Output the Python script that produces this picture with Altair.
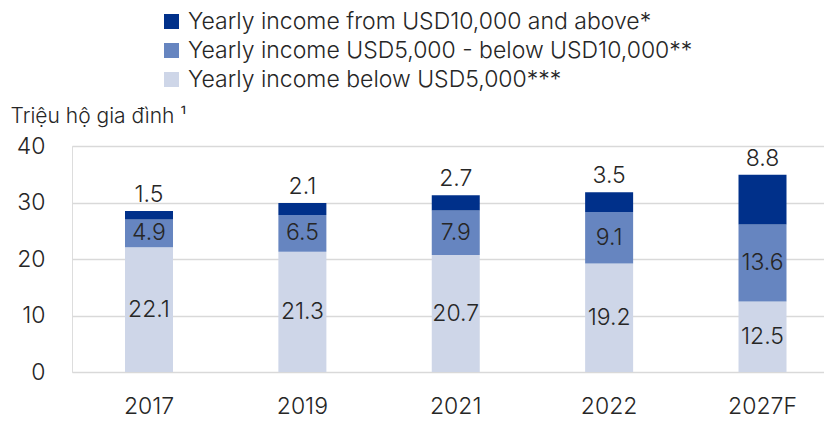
import altair as alt
import pandas as pd

years = ["2017", "2019", "2021", "2022", "2027F"]
below_5k = [22.1, 21.3, 20.7, 19.2, 12.5]
from_5k_to_10k = [4.9, 6.5, 7.9, 9.1, 13.6]
above_10k = [1.5, 2.1, 2.7, 3.5, 8.8]

series_names = [
    "Yearly income from USD10,000 and above*",
    "Yearly income USD5,000 - below USD10,000**",
    "Yearly income below USD5,000***",
]
series_colors = ["#00308A", "#6685C0", "#CED6E8"]
y_ticks = [0, 10, 20, 30, 40]

rows = []
for i, y in enumerate(years):
    rows.append({"year": y, "series": series_names[2], "value": below_5k[i], "k": 0})
    rows.append({"year": y, "series": series_names[1], "value": from_5k_to_10k[i], "k": 1})
    rows.append({"year": y, "series": series_names[0], "value": above_10k[i], "k": 2})
df = pd.DataFrame(rows)

FONT = "Inter"
W = 300
FS = 23
TXT = "#262626"

base = alt.Chart(df).transform_stack(
    stack="value", groupby=["year"], as_=["y0", "y1"],
    sort=[alt.SortField("k", order="ascending")]
).transform_calculate(
    mid="(datum.y0 + datum.y1) / 2"
)

xenc = alt.X(
    "year:N", sort=years, title=None,
    scale=alt.Scale(paddingInner=0.685, paddingOuter=0.294, align=0.586),
    axis=alt.Axis(domain=False, ticks=False, labelAngle=0, labelFontSize=FS,
                  labelFont=FONT, labelFontWeight=W, labelColor=TXT,
                  labelPadding=23, grid=False),
)

yscale = alt.Scale(domain=[0, 40], nice=False)

bars = base.mark_bar(size=48).encode(
    x=xenc,
    y=alt.Y(
        "y0:Q", scale=yscale,
        title="Triệu hộ gia đình ¹",
        axis=alt.Axis(
            values=y_ticks, domain=False, ticks=False, labelFontSize=FS,
            labelFont=FONT, labelFontWeight=W, labelColor=TXT, labelPadding=27,
            gridColor="#D9D9D9", gridWidth=1.5,
            titleAngle=0, titleAlign="left", titleBaseline="alphabetic",
            titleX=-62, titleY=-24, titleFontSize=21, titleFontWeight=W,
            titleFont=FONT, titleColor=TXT,
        ),
    ),
    y2="y1:Q",
    color=alt.Color(
        "series:N",
        scale=alt.Scale(domain=series_names, range=series_colors),
        legend=alt.Legend(
            title=None, orient="none", legendX=88, legendY=-136,
            symbolType="square", symbolSize=225, symbolStrokeWidth=0,
            labelFontSize=FS, labelFont=FONT, labelFontWeight=W, labelColor=TXT,
            labelOffset=5, rowPadding=5, labelLimit=600, padding=0,
        ),
    ),
    order=alt.Order("k:Q", sort="ascending"),
)

inner_labels = base.transform_filter("datum.k < 2").mark_text(
    fontSize=FS, font=FONT, fontWeight=W, color=TXT, baseline="middle"
).encode(
    x=alt.X("year:N", sort=years),
    y=alt.Y("mid:Q", scale=yscale),
    text=alt.Text("value:Q", format=".1f"),
)

top_labels = base.transform_filter("datum.k == 2").mark_text(
    fontSize=FS, font=FONT, fontWeight=W, color=TXT, baseline="middle", dy=-16
).encode(
    x=alt.X("year:N", sort=years),
    y=alt.Y("y1:Q", scale=yscale),
    text=alt.Text("value:Q", format=".1f"),
)

chart = alt.layer(bars, inner_labels, top_labels).properties(
    width=752, height=226,
    autosize=alt.AutoSizeParams(type="none"),
    padding={"left": 64, "top": 138, "right": 0, "bottom": 48},
).configure_view(stroke=None).configure(background="white")

chart.save("out.html", embed_options={"renderer": "svg", "actions": False})
